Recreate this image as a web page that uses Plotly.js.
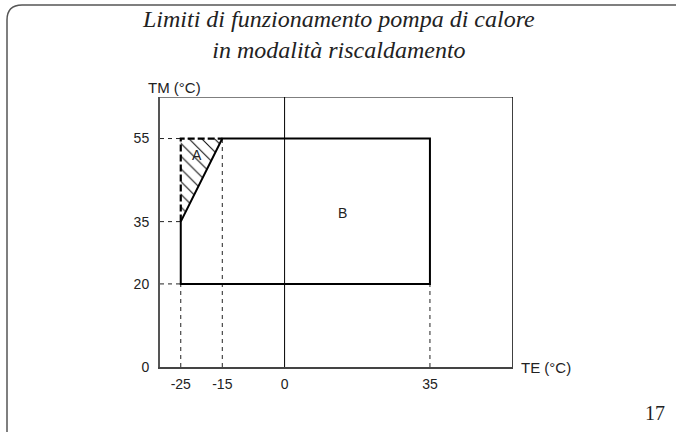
<!DOCTYPE html>
<html>
<head>
<meta charset="utf-8">
<script src="https://cdn.plot.ly/plotly-3.0.1.min.js"></script>
<style>html,body{margin:0;padding:0;background:#fff;}#chart{width:679px;height:432px;}</style>
</head>
<body>
<div id="chart"></div>
<script>
// ---- data ----
var titleLines = ["Limiti di funzionamento pompa di calore", "in modalità riscaldamento"];
var xTickVals = [-25, -15, 0, 35];
var xTickText = ["-25", "-15", "0", "35"];
var yTickVals = [0, 20, 35, 55];
var yTickText = ["0", "20", "35", "55"];
var xRange = [-30, 55];
var yRange = [0, 65];
// operating envelope B (solid outline)
var envX = [-25, -25, 35, 35, -15, -25];
var envY = [35, 20, 20, 55, 55, 35];
// hatched zone A
var zoneAX = [-25, -25, -15, -25];
var zoneAY = [35, 55, 55, 35];
// dashed edges of zone A
var aEdgeX = [-25, -25, -15];
var aEdgeY = [35, 55, 55];
var labelA = {x: -21, y: 51, text: "A"};
var labelB = {x: 14, y: 37, text: "B"};
var pageNumber = "17";

// ---- layout helpers (pixel -> paper) ----
var L = 160, R = 513, T = 97, B = 367;
function px(x){ return (x - L) / (R - L); }
function py(y){ return (B - y) / (B - T); }

var traces = [];
// hatch fill for A
traces.push({
  x: zoneAX, y: zoneAY, type: 'scatter', mode: 'lines', fill: 'toself',
  fillcolor: 'rgba(0,0,0,0)',
  fillpattern: {shape: '\\', size: 9, solidity: 0.12, fgcolor: '#111', bgcolor: 'rgba(0,0,0,0)'},
  line: {width: 0, color: 'rgba(0,0,0,0)'}, hoverinfo: 'skip', showlegend: false
});
// thin dashed reference lines
function refLine(xs, ys){
  traces.push({x: xs, y: ys, type: 'scatter', mode: 'lines',
    line: {color: '#222', width: 1, dash: '4px,4px'}, hoverinfo: 'skip', showlegend: false});
}
refLine([xRange[0], -25], [55, 55]);
refLine([xRange[0], -25], [35, 35]);
refLine([xRange[0], -25], [20, 20]);
refLine([-25, -25], [0, 20]);
refLine([-15, -15], [0, 55]);
refLine([35, 35], [0, 20]);
// x = 0 line
traces.push({x: [0, 0], y: yRange, type: 'scatter', mode: 'lines',
  line: {color: '#000', width: 1}, hoverinfo: 'skip', showlegend: false});
// envelope B solid
traces.push({x: envX, y: envY, type: 'scatter', mode: 'lines',
  line: {color: '#000', width: 2}, hoverinfo: 'skip', showlegend: false});
// zone A dashed edges
traces.push({x: aEdgeX, y: aEdgeY, type: 'scatter', mode: 'lines',
  line: {color: '#000', width: 2.2, dash: '7px,3px'}, hoverinfo: 'skip', showlegend: false});

var border = 'M ' + px(676) + ' ' + py(5) + ' L ' + px(22) + ' ' + py(5) +
  ' Q ' + px(7) + ' ' + py(5) + ' ' + px(7) + ' ' + py(20) + ' L ' + px(7) + ' ' + py(434);

var layout = {
  width: 679, height: 432,
  margin: {l: L, r: 679 - R, t: T, b: 432 - B, pad: 0},
  paper_bgcolor: '#fff', plot_bgcolor: '#fff',
  showlegend: false,
  font: {family: 'Liberation Sans, Arial, sans-serif', size: 14, color: '#222'},
  xaxis: {range: xRange, tickvals: xTickVals, ticktext: xTickText, showgrid: false, zeroline: false,
    showline: true, linecolor: '#444', linewidth: 2, ticks: '', ticklabelstandoff: 3,
    tickfont: {size: 14, color: '#222'}, fixedrange: true},
  yaxis: {range: yRange, tickvals: yTickVals, ticktext: yTickText, showgrid: false, zeroline: false,
    showline: true, linecolor: '#555', linewidth: 2, ticks: '', ticklabelstandoff: 6,
    tickfont: {size: 14, color: '#222'}, fixedrange: true},
  shapes: [
    {type: 'line', xref: 'x', yref: 'y', x0: xRange[0], x1: xRange[1], y0: yRange[1], y1: yRange[1], line: {color: '#000', width: 1}},
    {type: 'line', xref: 'x', yref: 'y', x0: xRange[1], x1: xRange[1], y0: yRange[0], y1: yRange[1], line: {color: '#000', width: 1.5}},
    {type: 'path', xref: 'paper', yref: 'paper', path: border, line: {color: '#555', width: 1.5}}
  ],
  annotations: [
    {xref: 'paper', yref: 'paper', x: px(338), y: py(4), xanchor: 'center', yanchor: 'top', showarrow: false,
      text: titleLines.join('<br>'), align: 'center',
      font: {family: 'Liberation Serif, serif', size: 24, style: 'italic', color: '#222'}},
    {xref: 'paper', yref: 'paper', x: px(174), y: py(88), xanchor: 'center', yanchor: 'middle', showarrow: false,
      text: 'TM (°C)', font: {size: 15, color: '#222'}},
    {xref: 'paper', yref: 'paper', x: px(519), y: py(367), xanchor: 'left', yanchor: 'middle', showarrow: false,
      text: 'TE (°C)', font: {size: 15, color: '#222'}},
    {xref: 'x', yref: 'y', x: labelA.x, y: labelA.y, showarrow: false, text: labelA.text, font: {size: 14, color: '#222'}},
    {xref: 'x', yref: 'y', x: labelB.x, y: labelB.y, showarrow: false, text: labelB.text, font: {size: 14, color: '#222'}},
    {xref: 'paper', yref: 'paper', x: px(655), y: py(413), xanchor: 'center', yanchor: 'middle', showarrow: false,
      text: pageNumber, font: {family: 'Liberation Serif, serif', size: 20, color: '#222'}}
  ]
};
Plotly.newPlot('chart', traces, layout, {displayModeBar: false, staticPlot: true});
</script>
</body>
</html>
